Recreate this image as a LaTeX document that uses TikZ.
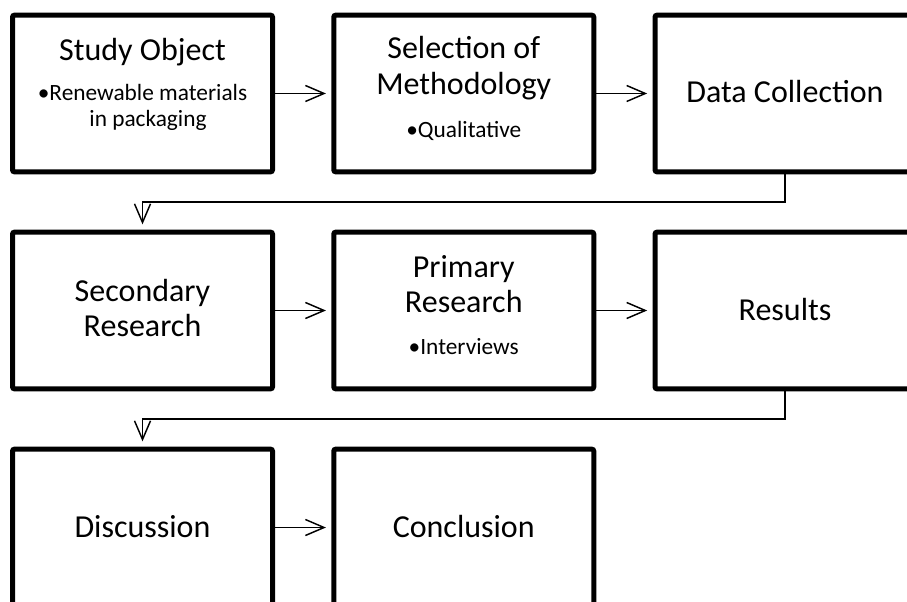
\documentclass[tikz,border=0pt]{standalone}
\usepackage{fontspec}
\setmainfont{Carlito}
\usetikzlibrary{arrows.meta}
\begin{document}
\begin{tikzpicture}[x=0.75pt,y=-0.75pt,
  box/.style={draw, line width=3.75pt, rounded corners=1.5pt, minimum width=195pt, minimum height=117.5pt, inner sep=0pt, fill=white},
  ttl/.style={anchor=base, font=\fontsize{24}{28}\selectfont, inner sep=0pt},
  bul/.style={anchor=base, font=\fontsize{17.5}{21}\selectfont, inner sep=0pt},
  arr/.style={line width=1.1pt, -{Straight Barb[length=14pt,width=12pt]}, shorten >=4pt}]
\clip (0,0) rectangle (907,602);
\fill[white] (0,0) rectangle (907,602);
% boxes
\node[box] (b1) at (142.5,93.5) {};
\node[box] (b2) at (463.75,93.5) {};
\node[box] (b3) at (785,93.5) {};
\node[box] (b4) at (142.5,310.5) {};
\node[box] (b5) at (463.75,310.5) {};
\node[box] (b6) at (785,310.5) {};
\node[box] (b7) at (142.5,527.5) {};
\node[box] (b8) at (463.75,527.5) {};
% texts
\node[ttl] (t1) at (142.5,61) {Study Object};
\node[bul] (t1a) at (142.5,101) {•Renewable materials};
\node[bul] (t1b) at (148,127) {in packaging};
\node[ttl] (t2a) at (463.75,59) {Selection of};
\node[ttl] (t2b) at (463.75,95) {Methodology};
\node[bul] (t2c) at (463.75,138) {•Qualitative};
\node[ttl] (t3) at (785,103) {Data Collection};
\node[ttl] (t4a) at (142.5,302) {Secondary};
\node[ttl] (t4b) at (142.5,337) {Research};
\node[ttl] (t5a) at (463.75,278) {Primary};
\node[ttl] (t5b) at (463.75,313) {Research};
\node[bul] (t5c) at (463.75,354) {•Interviews};
\node[ttl] (t6) at (785,320.5) {Results};
\node[ttl] (t7) at (142.5,537.5) {Discussion};
\node[ttl] (t8) at (463.75,537.5) {Conclusion};
% connectors
\coordinate (e1) at (142.5,202);
\coordinate (e2) at (142.5,419);
\draw[arr] (b1) -- (b2);
\draw[arr] (b2) -- (b3);
\draw[arr] (b3.south) |- (e1) -- (b4.north);
\draw[arr] (b4) -- (b5);
\draw[arr] (b5) -- (b6);
\draw[arr] (b6.south) |- (e2) -- (b7.north);
\draw[arr] (b7) -- (b8);
\end{tikzpicture}
\end{document}
